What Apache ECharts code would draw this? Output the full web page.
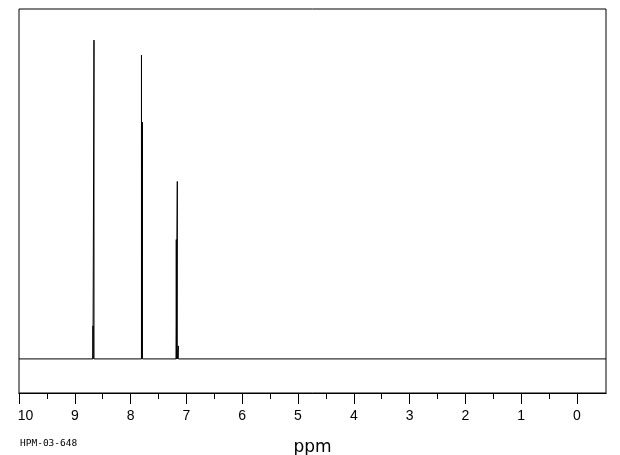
<!DOCTYPE html>
<html><head><meta charset="utf-8">
<script src="https://cdn.jsdelivr.net/npm/echarts@6/dist/echarts.min.js"></script>
<style>html,body{margin:0;padding:0;background:#fff}#c{width:620px;height:455px}</style>
</head><body><div id="c"></div>
<script>
// Peak positions (ppm) and intensities (arbitrary units, baseline = 0)
const peakShifts = [8.674, 8.656, 7.805, 7.787, 7.181, 7.163, 7.145];
const peakHeights = [33, 318, 303, 236, 119, 177, 13];
const majorTicks = [10, 9, 8, 7, 6, 5, 4, 3, 2, 1, 0];
const minorTicks = [9.5, 8.5, 7.5, 6.5, 5.5, 4.5, 3.5, 2.5, 1.5, 0.5];
const xMax = 10, xMin = -0.52;
const sampleId = 'HPM-03-648';

const data = [[xMax, 0]];
peakShifts.forEach((p, i) => { data.push([p, 0], [p, peakHeights[i]], [p, 0]); });
data.push([xMin, 0]);

const chart = echarts.init(document.getElementById('c'), null, {renderer: 'canvas'});
const baseAxis = {
  type: 'value', min: xMin, max: xMax, inverse: true, position: 'bottom',
  splitLine: {show: false},
  axisLine: {show: true, onZero: false, lineStyle: {color: '#000', width: 1}}
};
chart.setOption({
  animation: false,
  grid: {left: 19, right: 14, top: 9, bottom: 62, show: true, borderColor: '#000', borderWidth: 1,
         containLabel: false, outerBoundsMode: 'none'},
  xAxis: [
    Object.assign({}, baseAxis, {
      name: 'ppm', nameLocation: 'middle', nameGap: 46,
      nameTextStyle: {color: '#000', fontSize: 17, fontFamily: 'DejaVu Sans'},
      axisTick: {show: true, length: 11, customValues: majorTicks, lineStyle: {color: '#000'}},
      axisLabel: {
        show: true, customValues: majorTicks, margin: 16, color: '#000', fontSize: 14,
        fontFamily: 'Liberation Sans',
        formatter: v => v === 10 ? '{l|10}' : String(v),
        rich: {l: {padding: [0, 0, 0, 13], fontSize: 14, fontFamily: 'Liberation Sans', color: '#000'}}
      }
    }),
    Object.assign({}, baseAxis, {
      axisTick: {show: true, length: 6, customValues: minorTicks, lineStyle: {color: '#000'}},
      axisLabel: {show: false}
    })
  ],
  yAxis: {type: 'value', min: -34, max: 349, show: false},
  graphic: [{type: 'text', left: 20, top: 439, style: {text: sampleId, fontSize: 9.5, fontFamily: 'DejaVu Sans Mono', fill: '#000'}}],
  series: [{
    type: 'line', data: data, showSymbol: false, symbol: 'none',
    lineStyle: {color: '#000', width: 1}, xAxisIndex: 0
  }]
});
</script></body></html>
